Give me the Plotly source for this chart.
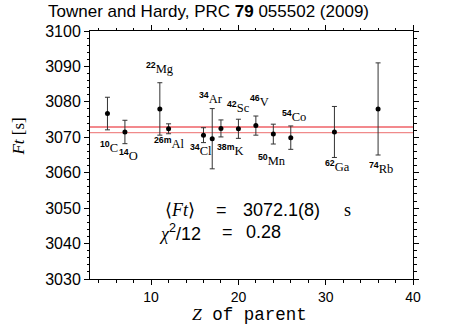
import plotly.graph_objects as go

# ---- data ----
nuclide_mass = ["10", "14", "22", "26m", "34", "34", "38m", "42", "46", "50", "54", "62", "74"]
nuclide_elem = ["C", "O", "Mg", "Al", "Cl", "Ar", "K", "Sc", "V", "Mn", "Co", "Ga", "Rb"]
z_values = [5, 7, 11, 12, 16, 17, 18, 20, 22, 24, 26, 31, 36]
ft_values = [3076.7, 3071.5, 3078.0, 3072.4, 3070.6, 3069.6, 3072.5, 3072.4, 3073.3, 3070.9, 3069.9, 3071.5, 3078.0]
ft_errors = [4.6, 3.3, 7.4, 1.4, 2.1, 8.5, 2.4, 2.7, 2.7, 2.8, 3.3, 7.2, 13.0]
ft_mean = 3072.1
ft_mean_err = 0.8
chi2_ndf = 12
chi2_value = 0.28
x_ticks = [10, 20, 30, 40]
y_ticks = [3030, 3040, 3050, 3060, 3070, 3080, 3090, 3100]

# label placement (layout, data coordinates)
label_x = [5.2, 7.4, 11.0, 12.1, 15.7, 16.9, 19.1, 20.0, 22.4, 23.8, 26.4, 31.4, 36.3]
label_y = [3067.4, 3065.0, 3089.6, 3068.3, 3066.5, 3081.1, 3066.3, 3078.5, 3080.2, 3063.6, 3076.0, 3061.9, 3061.3]

SERIF = "Liberation Serif, Times New Roman, serif"
SANS = "Liberation Sans, Arial, sans-serif"
MONO = "Liberation Mono, Courier New, monospace"

fig = go.Figure()

# mean +/- error lines
fig.add_hline(y=ft_mean + ft_mean_err, line=dict(color="#e8141c", width=1.2), layer="below")
fig.add_hline(y=ft_mean - ft_mean_err, line=dict(color="#f08a8a", width=1.2), layer="below")

fig.add_trace(go.Scatter(
    x=z_values, y=ft_values, mode="markers",
    marker=dict(color="black", size=5),
    error_y=dict(type="data", array=ft_errors, visible=True, color="#333333", thickness=1, width=2.5),
    showlegend=False, cliponaxis=False, hoverinfo="skip",
))

for m, e, lx, ly in zip(nuclide_mass, nuclide_elem, label_x, label_y):
    fig.add_annotation(
        x=lx, y=ly, xref="x", yref="y", showarrow=False,
        xanchor="center", yanchor="middle",
        text=f"<sup><span style='font-family:Liberation Sans;font-weight:bold'>{m}</span></sup>{e}",
        font=dict(family=SERIF, size=12.5, color="black"),
    )

# result text, placed piece by piece
def txt(x, y, text, family=SANS, size=18, xanchor="left"):
    fig.add_annotation(x=x, y=y, xref="x", yref="y", showarrow=False,
                       xanchor=xanchor, yanchor="middle", text=text,
                       font=dict(family=family, size=size, color="black"))

txt(11.31, 3049.5, "⟨<i><span style='font-family:Liberation Serif'>Ft</span></i>⟩")
txt(18.1, 3049.5, "=", xanchor="center")
txt(20.3, 3049.5, f"{ft_mean:.1f}({int(round(ft_mean_err * 10))})")
txt(31.9, 3049.5, "s", family=SERIF)
txt(10.62, 3043.2, f"<i><span style='font-family:Liberation Serif'>χ</span></i><sup>2</sup>/{chi2_ndf}")
txt(18.7, 3043.2, "=", xanchor="center")
txt(20.65, 3043.2, f"{chi2_value:.2f}")

# title and axis titles
fig.add_annotation(
    x=0.368, y=1.077, xref="paper", yref="paper", showarrow=False,
    xanchor="center", yanchor="middle",
    text="Towner and Hardy, PRC <b>79</b> 055502 (2009)",
    font=dict(family=SANS, size=17, color="black"),
)
fig.add_annotation(
    x=0.494, y=-0.142, xref="paper", yref="paper", showarrow=False,
    xanchor="center", yanchor="middle", borderpad=0,
    text="<i><span style='font-family:Liberation Serif'>Z</span></i> of parent",
    font=dict(family=MONO, size=17.5, color="black"),
)
fig.add_annotation(
    x=-0.221, y=0.573, xref="paper", yref="paper", showarrow=False, textangle=-90,
    xanchor="center", yanchor="middle",
    text="<i>Ft</i>&nbsp;[s]",
    font=dict(family=SERIF, size=17, color="black"),
)

axis_common = dict(
    showline=True, linecolor="black", linewidth=1, mirror="allticks",
    ticks="outside", ticklen=5, tickwidth=1, tickcolor="black",
    showgrid=False, zeroline=False,
    minor=dict(ticks="outside", ticklen=2.5, tickwidth=1, tickcolor="black", dtick=2, showgrid=False),
)

fig.update_xaxes(range=[3, 40], tickvals=x_ticks, ticktext=[str(t) for t in x_ticks],
                 tickfont=dict(family=SANS, size=14, color="black"), **axis_common)
fig.update_yaxes(range=[3030, 3100], tickvals=y_ticks, ticktext=[str(t) for t in y_ticks],
                 tickfont=dict(family=SANS, size=16, color="black"), **axis_common)

fig.update_layout(
    width=452, height=327,
    margin=dict(l=90, r=39, t=31, b=48),
    paper_bgcolor="white", plot_bgcolor="white",
    showlegend=False,
)

fig.write_html("out.html", config={"displayModeBar": False},
               post_script="document.body.style.margin='0';")
